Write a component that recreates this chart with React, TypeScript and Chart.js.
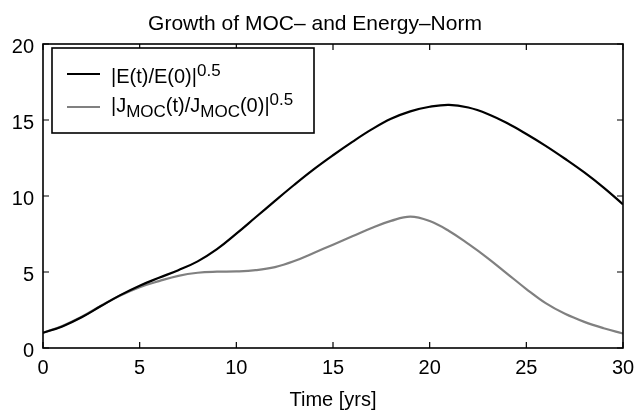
import React, { useEffect, useRef } from "react";
import { Chart, registerables } from "chart.js";

Chart.register(...registerables);

const years = [0, 1, 2, 3, 4, 5, 6, 7, 8, 9, 10, 11, 12, 13, 14, 15, 16, 17, 18, 19, 20, 21, 22, 23, 24, 25, 26, 27, 28, 29, 30];
const energyNorm = [1.0, 1.42, 2.02, 2.76, 3.48, 4.1, 4.62, 5.12, 5.7, 6.5, 7.52, 8.6, 9.68, 10.74, 11.75, 12.68, 13.56, 14.38, 15.08, 15.57, 15.87, 16.0, 15.82, 15.4, 14.8, 14.08, 13.3, 12.45, 11.55, 10.55, 9.45];
const mocNorm = [1.0, 1.45, 2.05, 2.78, 3.45, 4.0, 4.4, 4.75, 4.95, 5.02, 5.04, 5.12, 5.32, 5.72, 6.25, 6.8, 7.35, 7.9, 8.36, 8.64, 8.35, 7.7, 6.85, 5.92, 4.9, 3.88, 2.95, 2.25, 1.72, 1.3, 0.95];
const xTicks = [0, 5, 10, 15, 20, 25, 30];
const yTicks = [0, 5, 10, 15, 20];
const titleText = "Growth of MOC\u2013 and Energy\u2013Norm";
const xAxisTitle = "Time [yrs]";

const FONT = "'Liberation Sans', Arial, Helvetica, sans-serif";

const framePlugin = {
  id: "matlabFrame",
  afterDraw(chart: any) {
    const { ctx, chartArea } = chart;
    const xs = chart.scales.x;
    const ys = chart.scales.y;
    const { left, right, top, bottom } = chartArea;
    ctx.save();
    ctx.strokeStyle = "#000";
    ctx.lineWidth = 1.6;
    ctx.strokeRect(left, top, right - left, bottom - top);
    const tl = 6;
    ctx.lineWidth = 1.2;
    ctx.beginPath();
    xTicks.forEach((v) => {
      const px = xs.getPixelForValue(v);
      ctx.moveTo(px, bottom);
      ctx.lineTo(px, bottom - tl);
      ctx.moveTo(px, top);
      ctx.lineTo(px, top + tl);
    });
    yTicks.forEach((v) => {
      const py = ys.getPixelForValue(v);
      ctx.moveTo(left, py);
      ctx.lineTo(left + tl, py);
      ctx.moveTo(right, py);
      ctx.lineTo(right - tl, py);
    });
    ctx.stroke();

    ctx.fillStyle = "#000";
    ctx.font = `21px ${FONT}`;
    ctx.textAlign = "center";
    ctx.textBaseline = "alphabetic";
    ctx.fillText(titleText, 315, 30);

    const bx = 52, by = 48, bw = 262, bh = 85;
    ctx.fillStyle = "#fff";
    ctx.fillRect(bx, by, bw, bh);
    ctx.lineWidth = 1.6;
    ctx.strokeStyle = "#000";
    ctx.strokeRect(bx, by, bw, bh);

    const rows = [
      { color: "#000", ly: 74, base: 83, parts: [["n", "|E(t)/E(0)|"], ["sup", "0.5"]] },
      { color: "#808080", ly: 107, base: 112, parts: [["n", "|J"], ["sub", "MOC"], ["n", "(t)/J"], ["sub", "MOC"], ["n", "(0)|"], ["sup", "0.5"]] },
    ];
    ctx.textAlign = "left";
    rows.forEach((r) => {
      ctx.strokeStyle = r.color;
      ctx.lineWidth = 2.2;
      ctx.beginPath();
      ctx.moveTo(67, r.ly);
      ctx.lineTo(100, r.ly);
      ctx.stroke();
      let x = 111;
      ctx.fillStyle = "#000";
      r.parts.forEach(([kind, txt]) => {
        let y = r.base;
        ctx.font = kind === "n" ? `20px ${FONT}` : `17px ${FONT}`;
        if (kind === "sup") y = r.base - 7;
        if (kind === "sub") y = r.base + 5;
        ctx.fillText(txt, x, y);
        x += ctx.measureText(txt).width;
      });
    });
    ctx.restore();
  },
};

export default function App() {
  const ref = useRef<HTMLCanvasElement | null>(null);
  useEffect(() => {
    if (!ref.current) return;
    Chart.defaults.font.family = FONT;
    const chart = new Chart(ref.current, {
      type: "line",
      data: {
        datasets: [
          {
            label: "|E(t)/E(0)|^0.5",
            data: years.map((t, i) => ({ x: t, y: energyNorm[i] })),
            borderColor: "#000000",
            borderWidth: 2.2,
            pointRadius: 0,
            tension: 0.4,
            fill: false,
          },
          {
            label: "|J_MOC(t)/J_MOC(0)|^0.5",
            data: years.map((t, i) => ({ x: t, y: mocNorm[i] })),
            borderColor: "#808080",
            borderWidth: 2.2,
            pointRadius: 0,
            tension: 0.4,
            fill: false,
          },
        ],
      },
      options: {
        responsive: false,
        animation: false,
        events: [],
        layout: { padding: { top: 44, right: 0, bottom: 0, left: 0 } },
        plugins: {
          legend: { display: false },
          title: { display: false },
          tooltip: { enabled: false },
        },
        scales: {
          x: {
            type: "linear",
            min: 0,
            max: 30,
            afterFit: (s: any) => {
              s.height = 62;
              s.paddingLeft = 0;
              s.paddingRight = 12;
            },
            afterBuildTicks: (s: any) => {
              s.ticks = xTicks.map((v) => ({ value: v }));
            },
            grid: { display: false, drawTicks: false },
            border: { display: false },
            ticks: {
              color: "#000",
              font: { size: 20, family: FONT },
              padding: 8,
              maxRotation: 0,
              autoSkip: false,
            },
            title: {
              display: true,
              text: xAxisTitle,
              color: "#000",
              font: { size: 20, family: FONT, lineHeight: 1 },
              padding: { top: 0, bottom: 0 },
            },
          },
          y: {
            type: "linear",
            min: 0,
            max: 20,
            afterFit: (s: any) => {
              s.width = 43;
            },
            afterBuildTicks: (s: any) => {
              s.ticks = yTicks.map((v) => ({ value: v }));
            },
            grid: { display: false, drawTicks: false },
            border: { display: false },
            ticks: {
              color: "#000",
              font: { size: 20, family: FONT },
              padding: 9,
              labelOffset: 3,
              autoSkip: false,
            },
          },
        },
      },
      plugins: [framePlugin],
    } as any);
    return () => chart.destroy();
  }, []);
  return (
    <div style={{ position: "absolute", left: 0, top: 0, width: 635, height: 410, background: "#fff" }}>
      <canvas ref={ref} width={635} height={410} style={{ display: "block" }} />
    </div>
  );
}
